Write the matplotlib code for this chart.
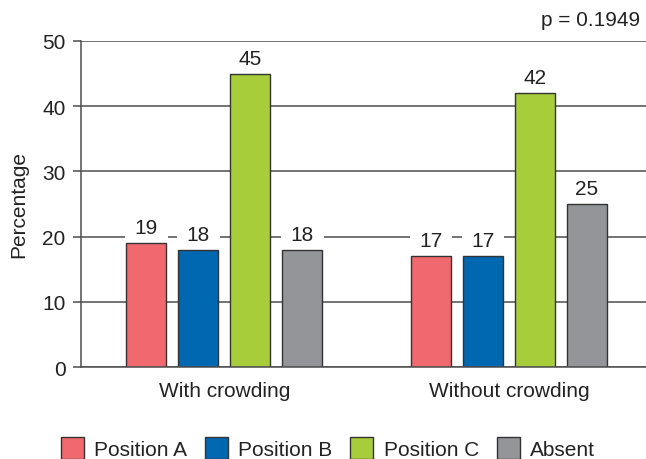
import numpy as np
import matplotlib.pyplot as plt
from matplotlib.patches import Rectangle

plt.rcParams['font.family'] = ['Liberation Sans', 'DejaVu Sans']

groups = ["With crowding", "Without crowding"]
series = ["Position A", "Position B", "Position C", "Absent"]
values = {
    "Position A": [19, 17],
    "Position B": [18, 17],
    "Position C": [45, 42],
    "Absent": [18, 25],
}
colors = ["#F0696F", "#0067B1", "#A7CD3A", "#939598"]
p_text = "p = 0.1949"

fig = plt.figure(figsize=(6.46, 4.60), dpi=100)
ax = fig.add_axes([81 / 646, 1 - 368 / 460, 1 - 81 / 646, (368 - 42) / 460])

x = np.arange(len(groups))
pitch = 0.1828
width = 0.1406
offsets = (np.arange(len(series)) - 1.5) * pitch
fs = 15

grid_c = "#4d4d4d"
txt_c = "#222222"
ax.set_axisbelow(True)
ax.yaxis.grid(True, color=grid_c, linewidth=1.1)

for i, s in enumerate(series):
    bars = ax.bar(x + offsets[i], values[s], width, color=colors[i],
                  edgecolor="#333333", linewidth=1.0, label=s, zorder=2)
    for b, v in zip(bars, values[s]):
        cx = b.get_x() + b.get_width() / 2
        # white block behind the label, breaks the gridline like the original
        ax.add_patch(Rectangle((cx - 0.075, v + 0.3), 0.15, 4.6,
                               facecolor="white", edgecolor="none", zorder=1.5))
        ax.text(cx, v + 0.9, str(v), ha="center", va="bottom",
                fontsize=fs, color=txt_c, zorder=3)

ax.set_xlim(-0.504, 1.4815)
ax.set_ylim(0, 50)
ax.set_yticks(range(0, 51, 10))
ax.set_xticks(x)
ax.set_xticklabels(groups, fontsize=fs, color=txt_c)
ax.tick_params(axis="x", length=0, pad=10)
ax.tick_params(axis="y", length=6, width=1.1, color=grid_c, labelsize=fs,
               labelcolor=txt_c, pad=5)

for side in ["top", "right"]:
    ax.spines[side].set_visible(False)
ax.spines["left"].set_color(grid_c)
ax.spines["left"].set_linewidth(1.1)
ax.spines["bottom"].set_color(grid_c)
ax.spines["bottom"].set_linewidth(1.1)

ax.set_ylabel("Percentage", fontsize=fs, color=txt_c, labelpad=10)

fig.text(640 / 646, 1 - 20 / 460, p_text, ha="right", va="center",
         fontsize=fs, color=txt_c)

fig.legend(loc="center", bbox_to_anchor=(328 / 646, 1 - 449 / 460), ncol=4,
           frameon=False, fontsize=fs, handlelength=1.1, handleheight=1.3,
           handletextpad=0.5, columnspacing=0.85, labelcolor=txt_c)

fig.savefig("out.png", dpi=100)
